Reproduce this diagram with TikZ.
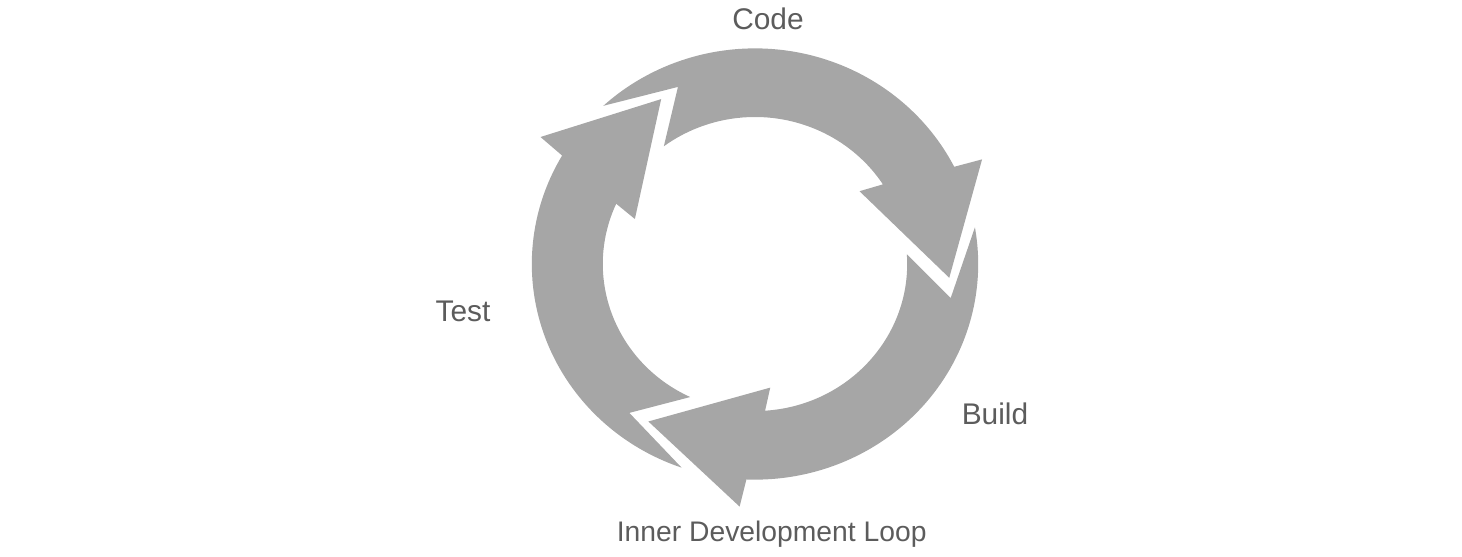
\documentclass[tikz,border=0pt]{standalone}
\usepackage{fontspec}
\setmainfont{Liberation Sans}
\usepackage{xcolor}
\usetikzlibrary{positioning}

\definecolor{loopgray}{HTML}{A6A6A6}
\definecolor{labelgray}{HTML}{5C5C5C}

\begin{document}
\begin{tikzpicture}[
x=0.02cm, y=0.02cm,
seg/.style={fill=loopgray, draw=none},
lbl/.style={text=labelgray, inner sep=0pt, anchor=base, font=\fontsize{17}{20}\selectfont}
]
\useasboundingbox (-755,-292) rectangle (707,264);

% three arrows of the cycle: tail angle / head angle
\begin{scope}[x=0.0203cm, y=0.0196cm]
\foreach \tl/\hd in {118.8/-4.2, 355.8/236.8, 236.8/118.8}
  \fill[seg] ({\tl+14}:220) arc[start angle=\tl+14, end angle=\hd+31, radius=220]
    -- ({\hd+29.7}:248) -- (\hd:192) -- ({\hd+40}:127) -- ({\hd+37}:150)
    arc[start angle=\hd+37, end angle=\tl+8, radius=150]
    -- ({\tl-6}:196) -- cycle;
\end{scope}

\node[lbl] (code) at (13,234.5) {Code};
\node[lbl] (build) at (240,-160.7) {Build};
\node[lbl] (test) at (-292,-57.7) {Test};
\node[lbl, font=\fontsize{16.1}{20}\selectfont] (loop) at (16.7,-277.3) {Inner Development Loop};
\end{tikzpicture}
\end{document}
